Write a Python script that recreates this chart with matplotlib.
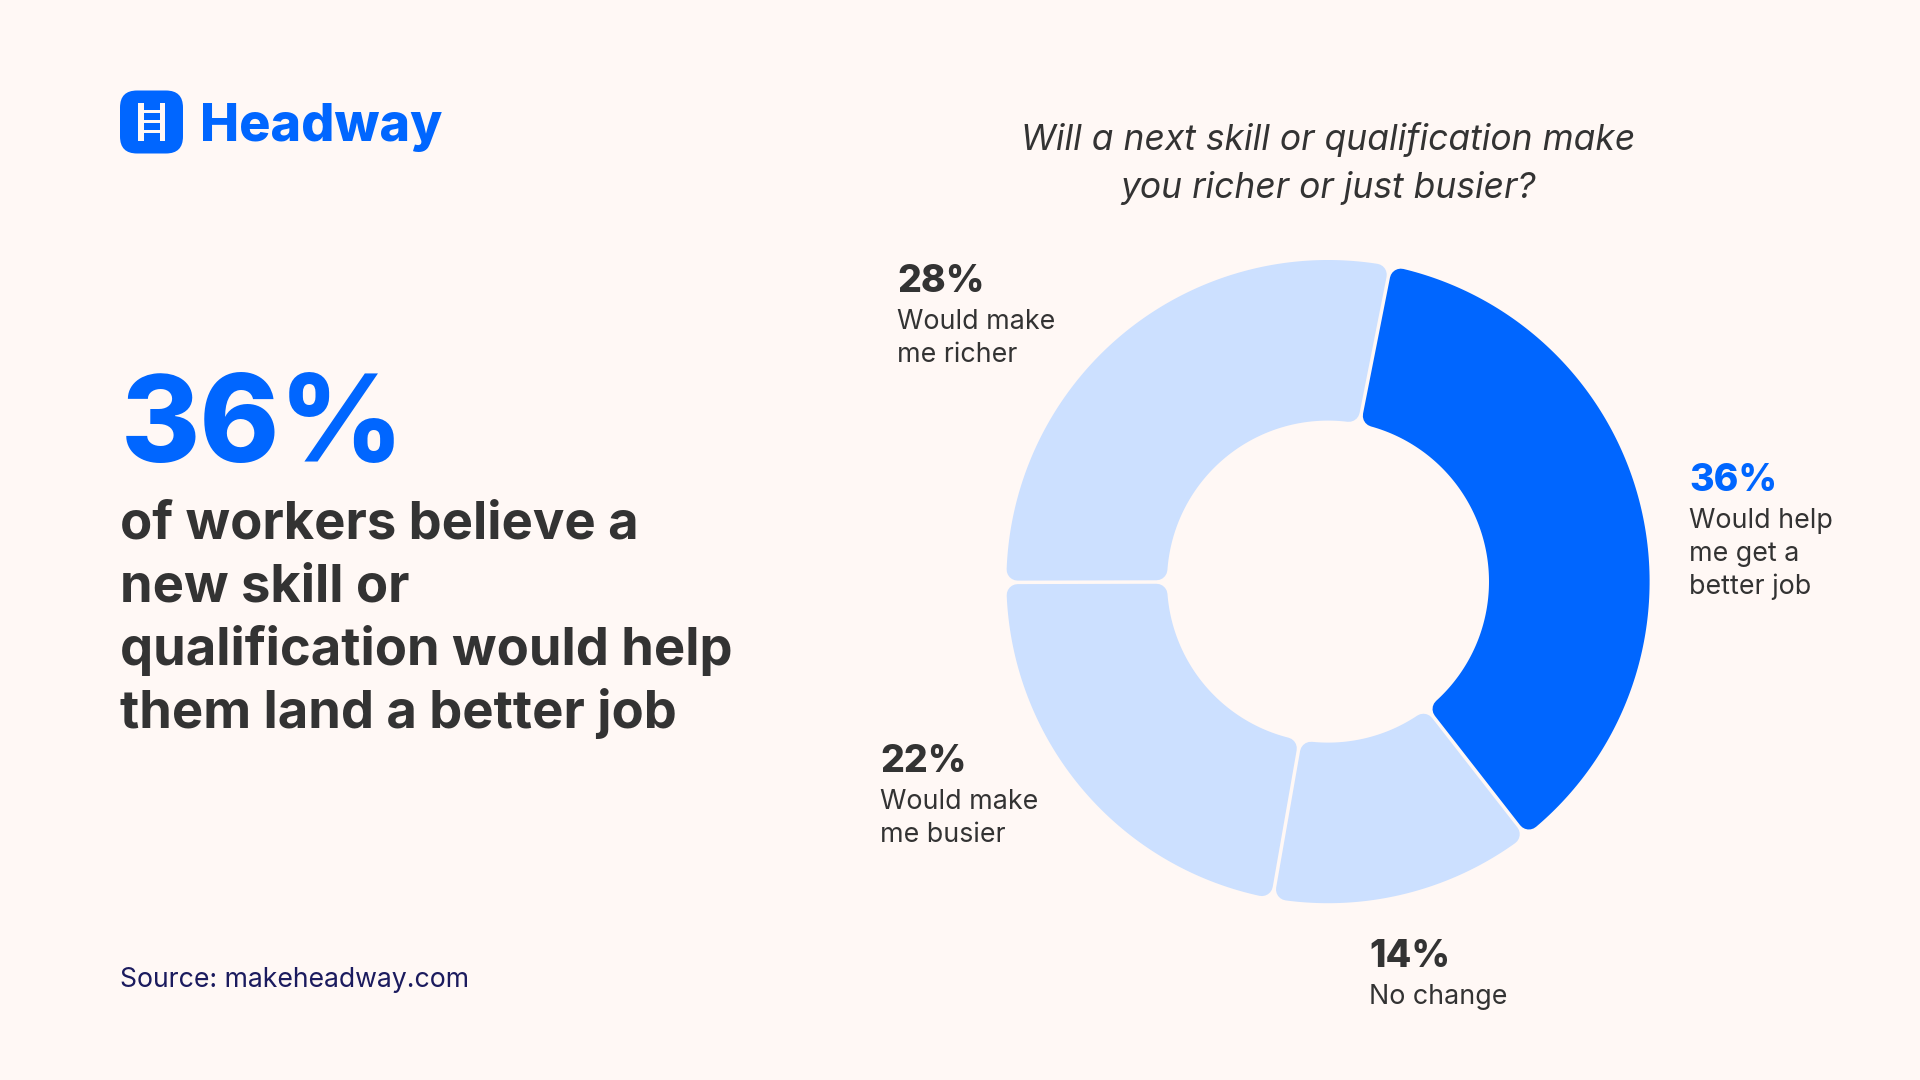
import numpy as np
import matplotlib
matplotlib.use("Agg")
import matplotlib.pyplot as plt
from matplotlib.path import Path
from matplotlib.patches import FancyBboxPatch, Rectangle

# ---- data ----
# arc sizes as measured on the picture; the printed labels are rounded figures
shares = [36.35, 13.3, 22.2, 28.15]
share_labels = ["36%", "14%", "22%", "28%"]
share_captions = [["Would help", "me get a", "better job"], ["No change"],
                  ["Would make", "me busier"], ["Would make", "me richer"]]
title_lines = ["Will a next skill or qualification make", "you richer or just busier?"]
headline_value = "36%"
headline_lines = ["of workers believe a", "new skill or",
                  "qualification would help", "them land a better job"]
source_text = "Source: makeheadway.com"
brand = "Headway"

BG, BLUE, LIGHT, DARK, NAVY = "#FFF8F5", "#0066FF", "#CCE0FF", "#333333", "#1B1B5E"
colors = [BLUE, LIGHT, LIGHT, LIGHT]
W, H = 1920, 1080
plt.rcParams["font.family"] = ["Inter", "DejaVu Sans"]

fig = plt.figure(figsize=(W / 100, H / 100), dpi=100, facecolor=BG)
ax = fig.add_axes([0, 0, 1, 1])
Y = lambda y: H - y

# donut
CX, CY, R, r = 1328, 581.6, 321.6, 161
CORNER, GAP = 11, 3.5
wedges, _ = ax.pie(shares, colors=colors, startangle=78.8, counterclock=False,
                   center=(CX, Y(CY)), radius=R, wedgeprops=dict(width=R - r))
for w in wedges:
    a1, a2 = np.radians(w.theta1), np.radians(w.theta2)
    d = CORNER + GAP / 2
    ro, ri = R - CORNER, r + CORNER
    t_o = np.linspace(a1 + np.arcsin(d / ro), a2 - np.arcsin(d / ro), 160)
    t_i = np.linspace(a2 - np.arcsin(d / ri), a1 + np.arcsin(d / ri), 160)
    xs = np.r_[CX + ro * np.cos(t_o), CX + ri * np.cos(t_i)]
    ys = np.r_[Y(CY) + ro * np.sin(t_o), Y(CY) + ri * np.sin(t_i)]
    w._path = Path(np.c_[np.r_[xs, xs[0]], np.r_[ys, ys[0]]], closed=True)
    w.set_edgecolor(w.get_facecolor())
    w.set_linewidth(2 * CORNER * 0.72)
    w.set_joinstyle("round")

ax.set_xlim(0, W)
ax.set_ylim(0, H)
ax.set_aspect("auto")
ax.axis("off")

# logo
ax.add_patch(FancyBboxPatch((132, Y(141.5)), 39, 39, boxstyle="round,pad=12,rounding_size=17",
                            fc=BLUE, ec="none"))
for x0 in (138, 159.5):
    ax.add_patch(Rectangle((x0, Y(141)), 5.5, 38, fc=BG, ec="none"))
for yr in (111, 121, 131):
    ax.add_patch(Rectangle((138, Y(yr + 1.5)), 27, 3, fc=BG, ec="none"))
ax.text(200, Y(141), brand, fontsize=37.5, fontweight="heavy", color=BLUE, va="baseline")

# left text
ax.text(121, Y(462), headline_value, fontsize=87, fontweight="heavy", color=BLUE, va="baseline")
for line, yb in zip(headline_lines, (538.5, 602, 665, 728)):
    ax.text(120, Y(yb), line, fontsize=37.8, fontweight="bold", color=DARK, va="baseline")
ax.text(120, Y(987), source_text, fontsize=19.2, color=NAVY, va="baseline")

# title
for line, yb in zip(title_lines, (150, 198)):
    ax.text(1328, Y(yb), line, fontsize=25.5, style="italic", color=DARK, ha="center", va="baseline")

# slice labels
label_x = [1689, 1369, 880.5, 897]
label_y = [491, 967, 772, 292]
for i, (lab, cap) in enumerate(zip(share_labels, share_captions)):
    ax.text(label_x[i], Y(label_y[i]), lab, fontsize=27, fontweight="heavy",
            color=BLUE if i == 0 else DARK, va="baseline")
    for k, c in enumerate(cap):
        ax.text(label_x[i], Y(label_y[i] + 37 + 33 * k), c, fontsize=19.3, color=DARK, va="baseline")

fig.savefig("out.png", dpi=100, facecolor=BG)
